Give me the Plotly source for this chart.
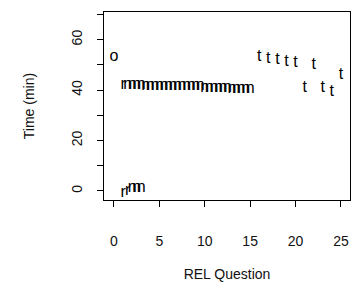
import plotly.graph_objects as go

# o-series
o_x = [0]
o_y = [53]
o_lab = ["o"]

# lower n-series (near zero)
low_x = [1, 1.5, 2, 2.5, 3]
low_y = [-1, 0, 1, 1, 1]
low_lab = ["r", "r", "n", "n", "n"]

# middle n-series (~40)
mid_x = [1, 1.5, 2, 2.5, 3, 3.5, 4, 4.5, 5, 5.5, 6, 6.5, 7, 7.5, 8, 8.5, 9, 9.5,
         10, 10.5, 11, 11.5, 12, 12.5, 13, 13.5, 14, 14.5, 15]
mid_y = [42, 42, 42, 42, 42, 41.5, 41.5, 41.5, 41.5, 41.5, 41.5, 41.5, 41.5, 41.5, 41.5,
         41.5, 41.5, 41.5, 41, 41, 41, 41, 41, 41, 40.5, 40.5, 40.5, 40.5, 40.5]
mid_lab = ["r", "n", "n", "n", "n", "n", "n", "n", "n", "n", "n", "n", "n", "n", "n",
           "n", "n", "n", "n", "n", "n", "n", "n", "n", "n", "n", "n", "n", "n"]

# t-series
t_x = [16, 17, 18, 19, 20, 21, 22, 23, 24, 25]
t_y = [53, 52.3, 52, 51.3, 50.7, 40.7, 50, 40.7, 39.4, 46]
t_lab = ["t"] * 10

x_ticks = [0, 5, 10, 15, 20, 25]
y_ticks = [0, 10, 20, 30, 40, 50, 60, 70]
y_ticktext = ["0", "", "20", "", "40", "", "60", ""]

FONT = "Liberation Sans, Arial, sans-serif"
mfont = dict(family=FONT, size=16, color="black")

fig = go.Figure()
for xs, ys, labs in [(o_x, o_y, o_lab), (low_x, low_y, low_lab),
                     (mid_x, mid_y, mid_lab), (t_x, t_y, t_lab)]:
    fig.add_trace(go.Scatter(x=xs, y=ys, text=labs, mode="text",
                             textposition="middle center", textfont=mfont,
                             showlegend=False, hoverinfo="skip"))

axis_common = dict(showline=True, linecolor="black", linewidth=1, mirror=True,
                   ticks="outside", ticklen=6, tickcolor="black", tickwidth=1,
                   showgrid=False, zeroline=False,
                   tickfont=dict(family=FONT, size=14, color="#111"))

fig.update_xaxes(range=[-1.1, 26], tickvals=x_ticks,
                 ticktext=[str(v) for v in x_ticks],
                 title=dict(text="REL Question", font=dict(family=FONT, size=14, color="#111"),
                            standoff=21),
                 ticklabelstandoff=22, **axis_common)
fig.update_yaxes(range=[-3.6, 71], tickvals=y_ticks, ticktext=y_ticktext,
                 tickangle=-90,
                 title=dict(text="Time (min)", font=dict(family=FONT, size=14, color="#111"),
                            standoff=31),
                 ticklabelstandoff=9, **axis_common)

fig.update_layout(width=362, height=295, margin=dict(l=104, r=12, t=12, b=95),
                  paper_bgcolor="white", plot_bgcolor="white")

fig.write_html("out.html", config={"displayModeBar": False},
               post_script="document.body.style.margin='0';window.dispatchEvent(new Event('resize'));")
